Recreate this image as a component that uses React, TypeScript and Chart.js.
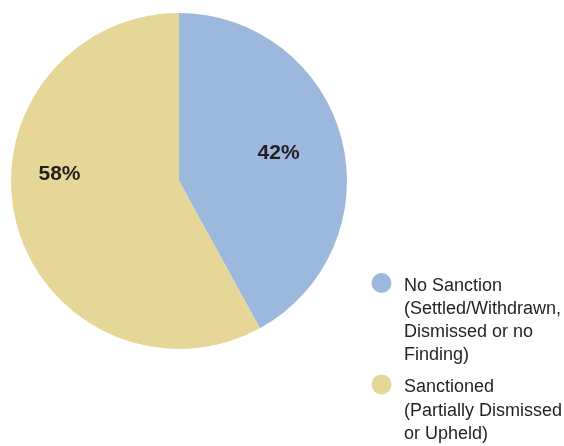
import React, { useEffect, useRef } from "react";
import { Chart, registerables } from "chart.js";

Chart.register(...registerables);

const categories: string[][] = [
  ["No Sanction", "(Settled/Withdrawn,", "Dismissed or no", "Finding)"],
  ["Sanctioned", "(Partially Dismissed", "or Upheld)"],
];
const values: number[] = [42, 58];
const valueLabels: string[] = ["42%", "58%"];
const colors: string[] = ["#9CB8DC", "#E6D697"];

// label placement inside each slice: fraction along the slice, fraction of radius
const labelAlong: number[] = [0.488, 0.587];
const labelRadius: number[] = [0.617, 0.713];

const FONT = '"Liberation Sans", Arial, Helvetica, sans-serif';

const sliceLabels = {
  id: "sliceLabels",
  afterDatasetsDraw(chart: any) {
    const ctx = chart.ctx;
    const meta = chart.getDatasetMeta(0);
    ctx.save();
    ctx.font = `bold 21px ${FONT}`;
    ctx.fillStyle = "#231F20";
    ctx.textAlign = "center";
    ctx.textBaseline = "middle";
    meta.data.forEach((arc: any, i: number) => {
      const a = arc.startAngle + (arc.endAngle - arc.startAngle) * labelAlong[i];
      const r = arc.outerRadius * labelRadius[i];
      ctx.fillText(valueLabels[i], arc.x + Math.cos(a) * r, arc.y + Math.sin(a) * r + 1);
    });
    ctx.restore();
  },
};

const customLegend = {
  id: "customLegend",
  afterDraw(chart: any) {
    const ctx = chart.ctx;
    const labels = chart.data.labels as string[][];
    const bg = chart.data.datasets[0].backgroundColor as string[];
    const circleX = 381.5;
    const textX = 404;
    const lineH = 23.1;
    const groupGap = 9;
    let baseline = 291;
    ctx.save();
    ctx.font = `18px ${FONT}`;
    ctx.textAlign = "left";
    ctx.textBaseline = "alphabetic";
    labels.forEach((lines, i) => {
      ctx.fillStyle = bg[i];
      ctx.beginPath();
      ctx.arc(circleX, baseline - 8, 10, 0, Math.PI * 2);
      ctx.fill();
      ctx.fillStyle = "#231F20";
      lines.forEach((ln) => {
        ctx.fillText(ln, textX, baseline);
        baseline += lineH;
      });
      baseline += groupGap;
    });
    ctx.restore();
  },
};

export default function App() {
  const ref = useRef<HTMLCanvasElement | null>(null);
  useEffect(() => {
    document.body.style.margin = "0";
    if (!ref.current) return;
    const chart = new Chart(ref.current, {
      type: "pie",
      data: {
        labels: categories as any,
        datasets: [
          {
            data: values,
            backgroundColor: colors,
            borderWidth: 0,
          },
        ],
      },
      options: {
        animation: false,
        responsive: true,
        maintainAspectRatio: false,
        layout: { padding: { left: 11, top: 13, right: 217, bottom: 97 } },
        plugins: {
          legend: { display: false },
          tooltip: { enabled: false },
        },
      },
      plugins: [sliceLabels, customLegend],
    });
    return () => chart.destroy();
  }, []);
  return (
    <div style={{ position: "relative", width: 564, height: 446 }}>
      <canvas ref={ref} />
    </div>
  );
}
